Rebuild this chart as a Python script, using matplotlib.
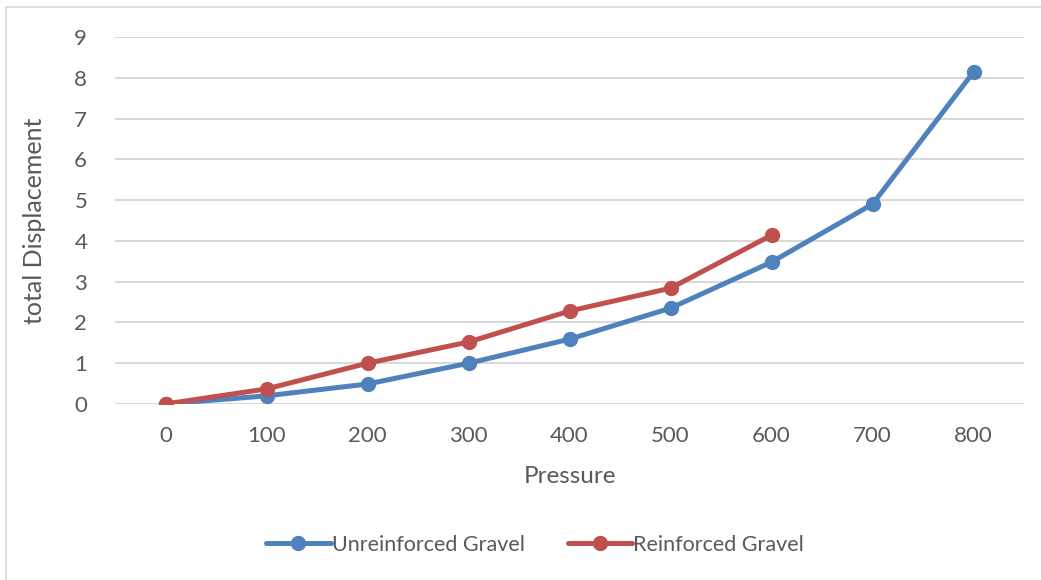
import matplotlib
matplotlib.use("Agg")
import matplotlib.pyplot as plt
from matplotlib.patches import Rectangle

pressure = ["0", "100", "200", "300", "400", "500", "600", "700", "800"]
unreinforced = [0.0, 0.2, 0.49, 1.0, 1.59, 2.35, 3.48, 4.9, 8.14]
reinforced = [0.0, 0.37, 1.0, 1.52, 2.28, 2.84, 4.14]

BLUE = "#4F81BD"
RED = "#C0504D"
GRID = "#D9D9D9"
TXT = "#595959"

plt.rcParams["font.family"] = ["Lato", "DejaVu Sans"]

fig = plt.figure(figsize=(10.41, 5.8), dpi=100)
fig.patches.append(Rectangle((6 / 1041, -0.1), 1.2, (580 - 7) / 580 + 0.1,
                             transform=fig.transFigure, fill=False,
                             edgecolor=GRID, linewidth=1.2))

ax = fig.add_axes([115 / 1041, (580 - 404) / 580, (1024 - 115) / 1041, (404 - 37) / 580])
x_u = list(range(len(unreinforced)))
x_r = list(range(len(reinforced)))
ax.plot(x_u, unreinforced, "-o", color=BLUE, lw=3.6, ms=10, label="Unreinforced Gravel",
        solid_capstyle="round", zorder=3)
ax.plot(x_r, reinforced, "-o", color=RED, lw=3.6, ms=10, label="Reinforced Gravel",
        solid_capstyle="round", zorder=4)

ax.set_xlim(-0.5, len(pressure) - 0.5)
ax.set_ylim(0, 9)
ax.set_xticks(range(len(pressure)))
ax.set_xticklabels(pressure)
ax.set_yticks(range(10))
ax.tick_params(length=0, labelsize=16, colors=TXT)
ax.tick_params(axis="x", pad=16)
ax.tick_params(axis="y", pad=20)
ax.grid(axis="y", color=GRID, lw=1.5)
ax.set_axisbelow(True)
for s in ax.spines.values():
    s.set_visible(False)

ax.set_xlabel("Pressure", fontsize=17.5, color=TXT, labelpad=14)
ax.set_ylabel("total Displacement", fontsize=18, color=TXT, labelpad=20)

leg = fig.legend(loc="center", bbox_to_anchor=(535 / 1041, 1 - 545 / 580), ncol=2,
                 frameon=False, fontsize=15.5, handlelength=3.0, handletextpad=0.05,
                 columnspacing=2.0)
for t in leg.get_texts():
    t.set_color(TXT)

fig.savefig("out.png", dpi=100)
